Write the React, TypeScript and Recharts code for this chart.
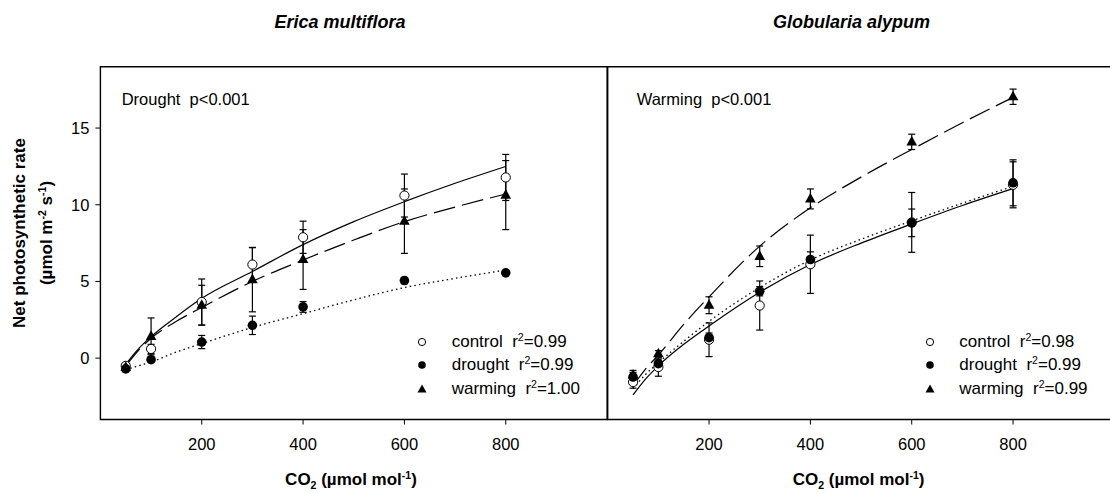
import React from "react";
import {
  ComposedChart,
  ErrorBar,
  Line,
  ReferenceArea,
  Scatter,
  XAxis,
  YAxis,
} from "recharts";

const FONT = "'Liberation Sans', Arial, Helvetica, sans-serif";

// measured CO2 levels (µmol mol-1)
const co2 = [50, 100, 200, 300, 400, 600, 800];

// Erica multiflora, net photosynthetic rate
const ericaControl = [-0.5, 0.6, 3.66, 6.1, 7.88, 10.6, 11.78];
const ericaControlErr = [0.2, 0.3, 1.5, 1.1, 1.05, 1.4, 1.5];
const ericaDrought = [-0.7, -0.1, 1.05, 2.14, 3.34, 5.06, 5.56];
const ericaDroughtErr = [0.15, 0.15, 0.43, 0.6, 0.35, 0.2, 0.1];
const ericaWarming = [-0.6, 1.42, 3.45, 5.12, 6.43, 8.93, 10.63];
const ericaWarmingErr = [0.15, 1.2, 1.3, 2.1, 1.95, 2.1, 2.25];

// Globularia alypum, net photosynthetic rate
const globControl = [-1.56, -0.58, 1.2, 3.43, 6.12, 8.85, 11.3];
const globControlErr = [0.4, 0.6, 1.1, 1.6, 1.9, 1.95, 1.5];
const globDrought = [-1.23, -0.36, 1.34, 4.36, 6.43, 8.82, 11.43];
const globDroughtErr = [0.3, 0.3, 0.3, 0.3, 0.5, 0.9, 1.5];
const globWarming = [-1.1, 0.29, 3.45, 6.64, 10.38, 14.1, 17.04];
const globWarmingErr = [0.3, 0.2, 0.55, 0.67, 0.65, 0.5, 0.5];

// fitted curves
const fitCo2 = [50, 75, 100, 150, 200, 300, 400, 500, 600, 700, 800];
const ericaControlFit = [-0.4, 0.6, 1.4, 2.7, 3.9, 5.65, 7.4, 8.9, 10.2, 11.4, 12.5];
const ericaDroughtFit = [-0.75, -0.5, -0.25, 0.4, 0.95, 2.0, 2.9, 3.8, 4.6, 5.2, 5.75];
const ericaWarmingFit = [-0.5, 0.5, 1.3, 2.4, 3.3, 5.0, 6.4, 7.7, 8.9, 9.85, 10.7];
const globControlFit = [-2.4, -1.35, -0.5, 0.9, 2.1, 4.3, 6.1, 7.5, 8.75, 9.95, 11.05];
const globDroughtFit = [-2.0, -1.05, -0.3, 1.1, 2.4, 4.6, 6.4, 7.75, 8.95, 10.1, 11.2];
const globWarmingFit = [-1.8, -0.7, 0.2, 2.2, 4.0, 7.3, 9.8, 11.8, 13.6, 15.35, 17.0];

const xTicks = [200, 400, 600, 800];
const yTicks = [0, 5, 10, 15];

const points = (ys: number[], errs: number[]) =>
  co2.map((x, i) => ({ x, y: ys[i], err: errs[i] }));
const curve = (ys: number[]) => fitCo2.map((x, i) => ({ x, y: ys[i] }));

const OpenCircle = (p: any) => (
  <circle cx={p.cx} cy={p.cy} r={4.6} fill="#fff" stroke="#000" strokeWidth={1} />
);
const FilledCircle = (p: any) => <circle cx={p.cx} cy={p.cy} r={4.8} fill="#000" />;
const Triangle = (p: any) => (
  <path
    d={`M${p.cx},${p.cy - 6}L${p.cx + 5.3},${p.cy + 3.6}L${p.cx - 5.3},${p.cy + 3.6}Z`}
    fill="#000"
  />
);

type PanelProps = {
  left: number;
  width: number;
  margin: { top: number; right: number; bottom: number; left: number };
  showY: boolean;
  control: { x: number; y: number; err: number }[];
  drought: { x: number; y: number; err: number }[];
  warming: { x: number; y: number; err: number }[];
  controlFit: { x: number; y: number }[];
  droughtFit: { x: number; y: number }[];
  warmingFit: { x: number; y: number }[];
};

function Panel(p: PanelProps) {
  const tick = { fill: "#000", fontSize: 16.5, fontFamily: FONT };
  return (
    <div style={{ position: "absolute", left: p.left, top: 0 }}>
      <ComposedChart width={p.width} height={493} margin={p.margin}>
        <XAxis
          type="number"
          dataKey="x"
          domain={[0, 1000]}
          ticks={xTicks}
          allowDataOverflow
          axisLine={false}
          tickSize={5}
          tickMargin={13.5}
          tickLine={{ stroke: "#000" }}
          tick={tick}
          height={30}
        />
        <YAxis
          type="number"
          dataKey="y"
          domain={[-4, 19]}
          ticks={yTicks}
          allowDataOverflow
          hide={!p.showY}
          axisLine={false}
          tickSize={5}
          tickMargin={6}
          tickLine={{ stroke: "#000" }}
          tick={tick}
          width={60}
        />
        <ReferenceArea
          x1={0}
          x2={1000}
          y1={-4}
          y2={19}
          fill="none"
          stroke="#000"
          strokeWidth={1.4}
        />
        <Line
          data={p.controlFit}
          dataKey="y"
          type="monotone"
          stroke="#000"
          strokeWidth={1.2}
          dot={false}
          activeDot={false}
          isAnimationActive={false}
        />
        <Line
          data={p.droughtFit}
          dataKey="y"
          type="monotone"
          stroke="#000"
          strokeWidth={1.3}
          strokeDasharray="1.5 3.2"
          dot={false}
          activeDot={false}
          isAnimationActive={false}
        />
        <Line
          data={p.warmingFit}
          dataKey="y"
          type="monotone"
          stroke="#000"
          strokeWidth={1.2}
          strokeDasharray="22 7"
          dot={false}
          activeDot={false}
          isAnimationActive={false}
        />
        <Scatter data={p.control} dataKey="y" shape={OpenCircle} isAnimationActive={false}>
          <ErrorBar dataKey="err" direction="y" width={3.5} stroke="#000" strokeWidth={1.2} />
        </Scatter>
        <Scatter data={p.drought} dataKey="y" shape={FilledCircle} isAnimationActive={false}>
          <ErrorBar dataKey="err" direction="y" width={3.5} stroke="#000" strokeWidth={1.2} />
        </Scatter>
        <Scatter data={p.warming} dataKey="y" shape={Triangle} isAnimationActive={false}>
          <ErrorBar dataKey="err" direction="y" width={3.5} stroke="#000" strokeWidth={1.2} />
        </Scatter>
      </ComposedChart>
    </div>
  );
}

const sup = (t: string) => (
  <span style={{ fontSize: "0.62em", position: "relative", top: "-0.55em" }}>{t}</span>
);
const sub = (t: string) => (
  <span style={{ fontSize: "0.62em", position: "relative", top: "0.4em" }}>{t}</span>
);

function Text({
  x,
  y,
  size,
  bold,
  italic,
  center,
  rotate,
  children,
}: {
  x: number;
  y: number;
  size: number;
  bold?: boolean;
  italic?: boolean;
  center?: boolean;
  rotate?: boolean;
  children: React.ReactNode;
}) {
  const tf = [center ? "translate(-50%, -50%)" : "translate(0, -50%)", rotate ? "rotate(-90deg)" : ""]
    .join(" ")
    .trim();
  return (
    <div
      style={{
        position: "absolute",
        left: x,
        top: y,
        transform: tf,
        fontSize: size,
        lineHeight: "20px",
        fontWeight: bold ? "bold" : "normal",
        fontStyle: italic ? "italic" : "normal",
        whiteSpace: "pre",
        color: "#000",
      }}
    >
      {children}
    </div>
  );
}

const legendMarkers = [
  <circle cx={6} cy={6} r={3.6} fill="#fff" stroke="#000" strokeWidth={1} />,
  <circle cx={6} cy={6} r={3.8} fill="#000" />,
  <path d="M6,1.5L10.5,9.5L1.5,9.5Z" fill="#000" />,
];
const legendNames = ["control", "drought", "warming"];
const ericaR2 = ["0.99", "0.99", "1.00"];
const globR2 = ["0.98", "0.99", "0.99"];

function LegendBox({ mx, tx, r2 }: { mx: number; tx: number; r2: string[] }) {
  return (
    <>
      {legendNames.map((n, i) => (
        <React.Fragment key={n}>
          <svg
            width={12}
            height={12}
            style={{ position: "absolute", left: mx - 6, top: 341.7 + i * 23.5 - 6 }}
          >
            {legendMarkers[i]}
          </svg>
          <Text x={tx} y={341.7 + i * 23.5} size={17}>
            {n}  r{sup("2")}={r2[i]}
          </Text>
        </React.Fragment>
      ))}
    </>
  );
}

export default function App() {
  return (
    <div
      style={{
        position: "absolute",
        left: 0,
        top: 0,
        width: 1110,
        height: 493,
        overflow: "hidden",
        background: "#fff",
        fontFamily: FONT,
      }}
    >
      <Panel
        left={0}
        width={620}
        margin={{ top: 66.7, right: 12.9, bottom: 43.5, left: 40.4 }}
        showY
        control={points(ericaControl, ericaControlErr)}
        drought={points(ericaDrought, ericaDroughtErr)}
        warming={points(ericaWarming, ericaWarmingErr)}
        controlFit={curve(ericaControlFit)}
        droughtFit={curve(ericaDroughtFit)}
        warmingFit={curve(ericaWarmingFit)}
      />
      <Panel
        left={560}
        width={560}
        margin={{ top: 66.7, right: 5.6, bottom: 43.5, left: 47.7 }}
        showY={false}
        control={points(globControl, globControlErr)}
        drought={points(globDrought, globDroughtErr)}
        warming={points(globWarming, globWarmingErr)}
        controlFit={curve(globControlFit)}
        droughtFit={curve(globDroughtFit)}
        warmingFit={curve(globWarmingFit)}
      />

      <Text x={340} y={21.7} size={18} bold italic center>
        Erica multiflora
      </Text>
      <Text x={851.5} y={21.7} size={18} bold italic center>
        Globularia alypum
      </Text>

      <Text x={121.7} y={99.3} size={16.5}>
        Drought  p{"<"}0.001
      </Text>
      <Text x={636.7} y={99.3} size={16.5}>
        Warming  p{"<"}0.001
      </Text>

      <Text x={20} y={233} size={17} bold center rotate>
        Net photosynthetic rate
      </Text>
      <Text x={47} y={233} size={17} bold center rotate>
        (µmol m{sup("-2")} s{sup("-1")})
      </Text>

      <Text x={351} y={480} size={17} bold center>
        CO{sub("2")} (µmol mol{sup("-1")})
      </Text>
      <Text x={858.6} y={480} size={17} bold center>
        CO{sub("2")} (µmol mol{sup("-1")})
      </Text>

      <LegendBox mx={421.7} tx={451.7} r2={ericaR2} />
      <LegendBox mx={930} tx={959.3} r2={globR2} />
    </div>
  );
}
